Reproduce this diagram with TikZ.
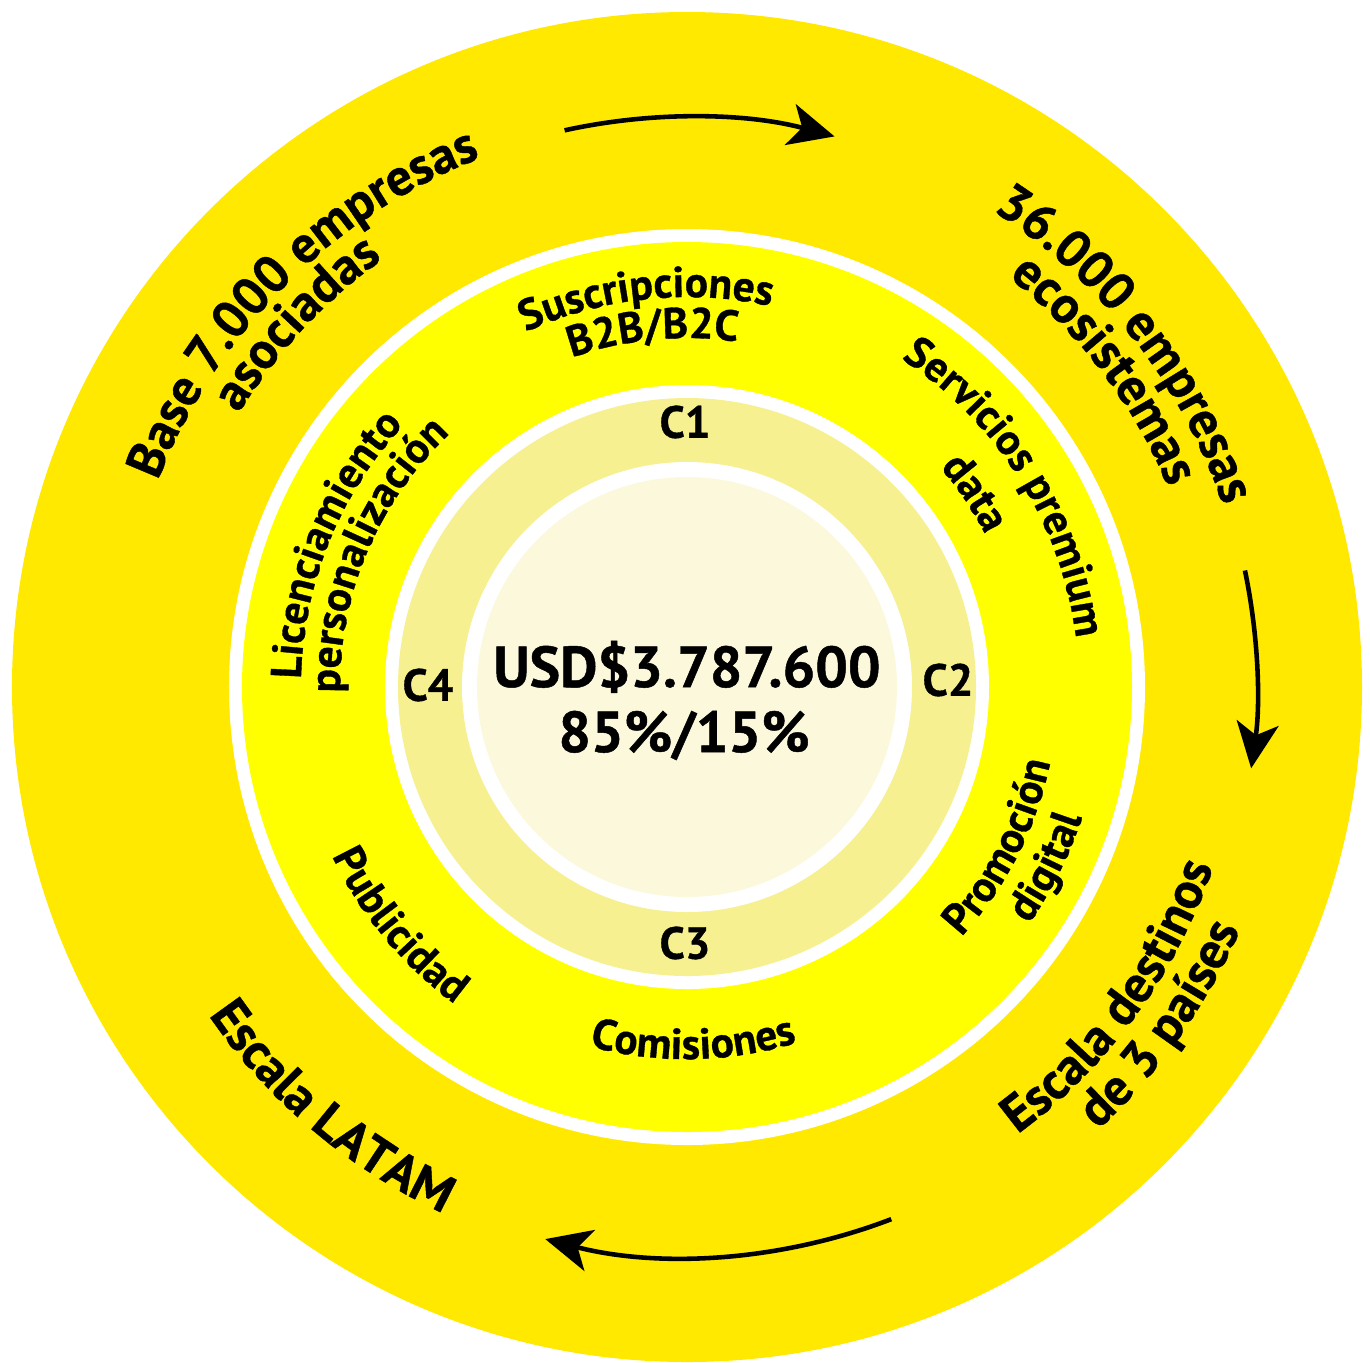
\documentclass[tikz,border=0pt]{standalone}
\usepackage{fontspec}
\setmainfont[BoldFeatures={FakeBold=0.8}]{PT Sans}
\usetikzlibrary{decorations.text,arrows.meta}

\definecolor{amarilloext}{HTML}{FFE900}
\definecolor{amarilloint}{HTML}{FFFF00}
\definecolor{amarillopal}{HTML}{F6F091}
\definecolor{crema}{HTML}{FCF8DC}

\newcommand{\letragrande}{\bfseries\fontsize{14.7}{14.7}\selectfont}
\newcommand{\letramedia}{\bfseries\fontsize{12.3}{12.3}\selectfont}

% texto curvo: angulo central, radio, fuente, texto
% \arcoh = sentido horario (letras hacia fuera), \arcoa = antihorario (letras hacia dentro)
\newcommand{\arcoh}[4]{\path[decorate,decoration={text along path,text align=center,text={|#3|#4}}] (#1+80:#2) arc[start angle=#1+80,end angle=#1-80,radius=#2];}
\newcommand{\arcoa}[4]{\path[decorate,decoration={text along path,text align=center,text={|#3|#4}}] (#1-80:#2) arc[start angle=#1-80,end angle=#1+80,radius=#2];}

\begin{document}
\begin{tikzpicture}[x=0.01cm,y=0.01cm,
        cifra/.style={anchor=base,font=\bfseries\fontsize{16.4}{16.4}\selectfont},
        ciclo/.style={font=\bfseries\fontsize{12.8}{12.8}\selectfont},
        flecha/.style={line width=1.3pt,-{Stealth[length=13pt,width=12pt,inset=3.5pt]}}]
        \useasboundingbox (-687,-675) rectangle (683,687);
        \fill[white] (-687,-675) rectangle (683,687);

        % anillos
        \fill[amarilloext] (0,0) circle[radius=675];
        \fill[white] (0,0) circle[radius=458];
        \fill[amarilloint] (0,0) circle[radius=445];
        \fill[white] (0,0) circle[radius=302];
        \fill[amarillopal] (0,0) circle[radius=289];
        \fill[white] (0,0) circle[radius=225];
        \fill[crema] (0,0) circle[radius=210];

        % flechas del anillo exterior
        \draw[flecha] (102.4:570) arc[start angle=102.4,end angle=75,radius=570];
        \draw[flecha] (11.8:570) arc[start angle=11.8,end angle=-8.2,radius=570];
        \draw[flecha] (-69:570) arc[start angle=-69,end angle=-104.4,radius=570];

        % anillo exterior
        \arcoh{135}{568}{\letragrande}{Base 7.000 empresas}
        \arcoh{137}{525}{\letragrande}{asociadas}
        \arcoh{38}{566}{\letragrande}{36.000 empresas}
        \arcoh{37.2}{521}{\letragrande}{ecosistemas}
        \arcoa{-36.2}{556}{\letragrande}{Escala destinos}
        \arcoa{-35.4}{604}{\letragrande}{de 3 países}
        \arcoa{-130.2}{580}{\letragrande}{Escala LATAM}

        % anillo intermedio
        \arcoh{96}{390}{\letramedia}{Suscripciones}
        \arcoh{95.5}{349}{\letramedia}{B2B/B2C}
        \arcoh{32}{392}{\letramedia}{Servicios premium}
        \arcoh{34}{335}{\letramedia}{data}
        \arcoh{158}{386}{\letramedia}{Licenciamiento}
        \arcoh{157}{347}{\letramedia}{personalización}
        \arcoa{-27}{371}{\letramedia}{Promoción}
        \arcoa{-26.5}{416}{\letramedia}{digital}
        \arcoa{-89}{372}{\letramedia}{Comisiones}
        \arcoa{-140.4}{393}{\letramedia}{Publicidad}

        % ciclos
        \node[ciclo] (c1) at (-2,265) {C1};
        \node[ciclo] (c2) at (261,7) {C2};
        \node[ciclo] (c3) at (-2,-256) {C3};
        \node[ciclo] (c4) at (-259,2) {C4};

        % centro
        \node[cifra] (monto) at (0,0) {USD\$3.787.600};
        \node[cifra] (reparto) at (-3,-65) {85\%/15\%};
    \end{tikzpicture}
\end{document}
